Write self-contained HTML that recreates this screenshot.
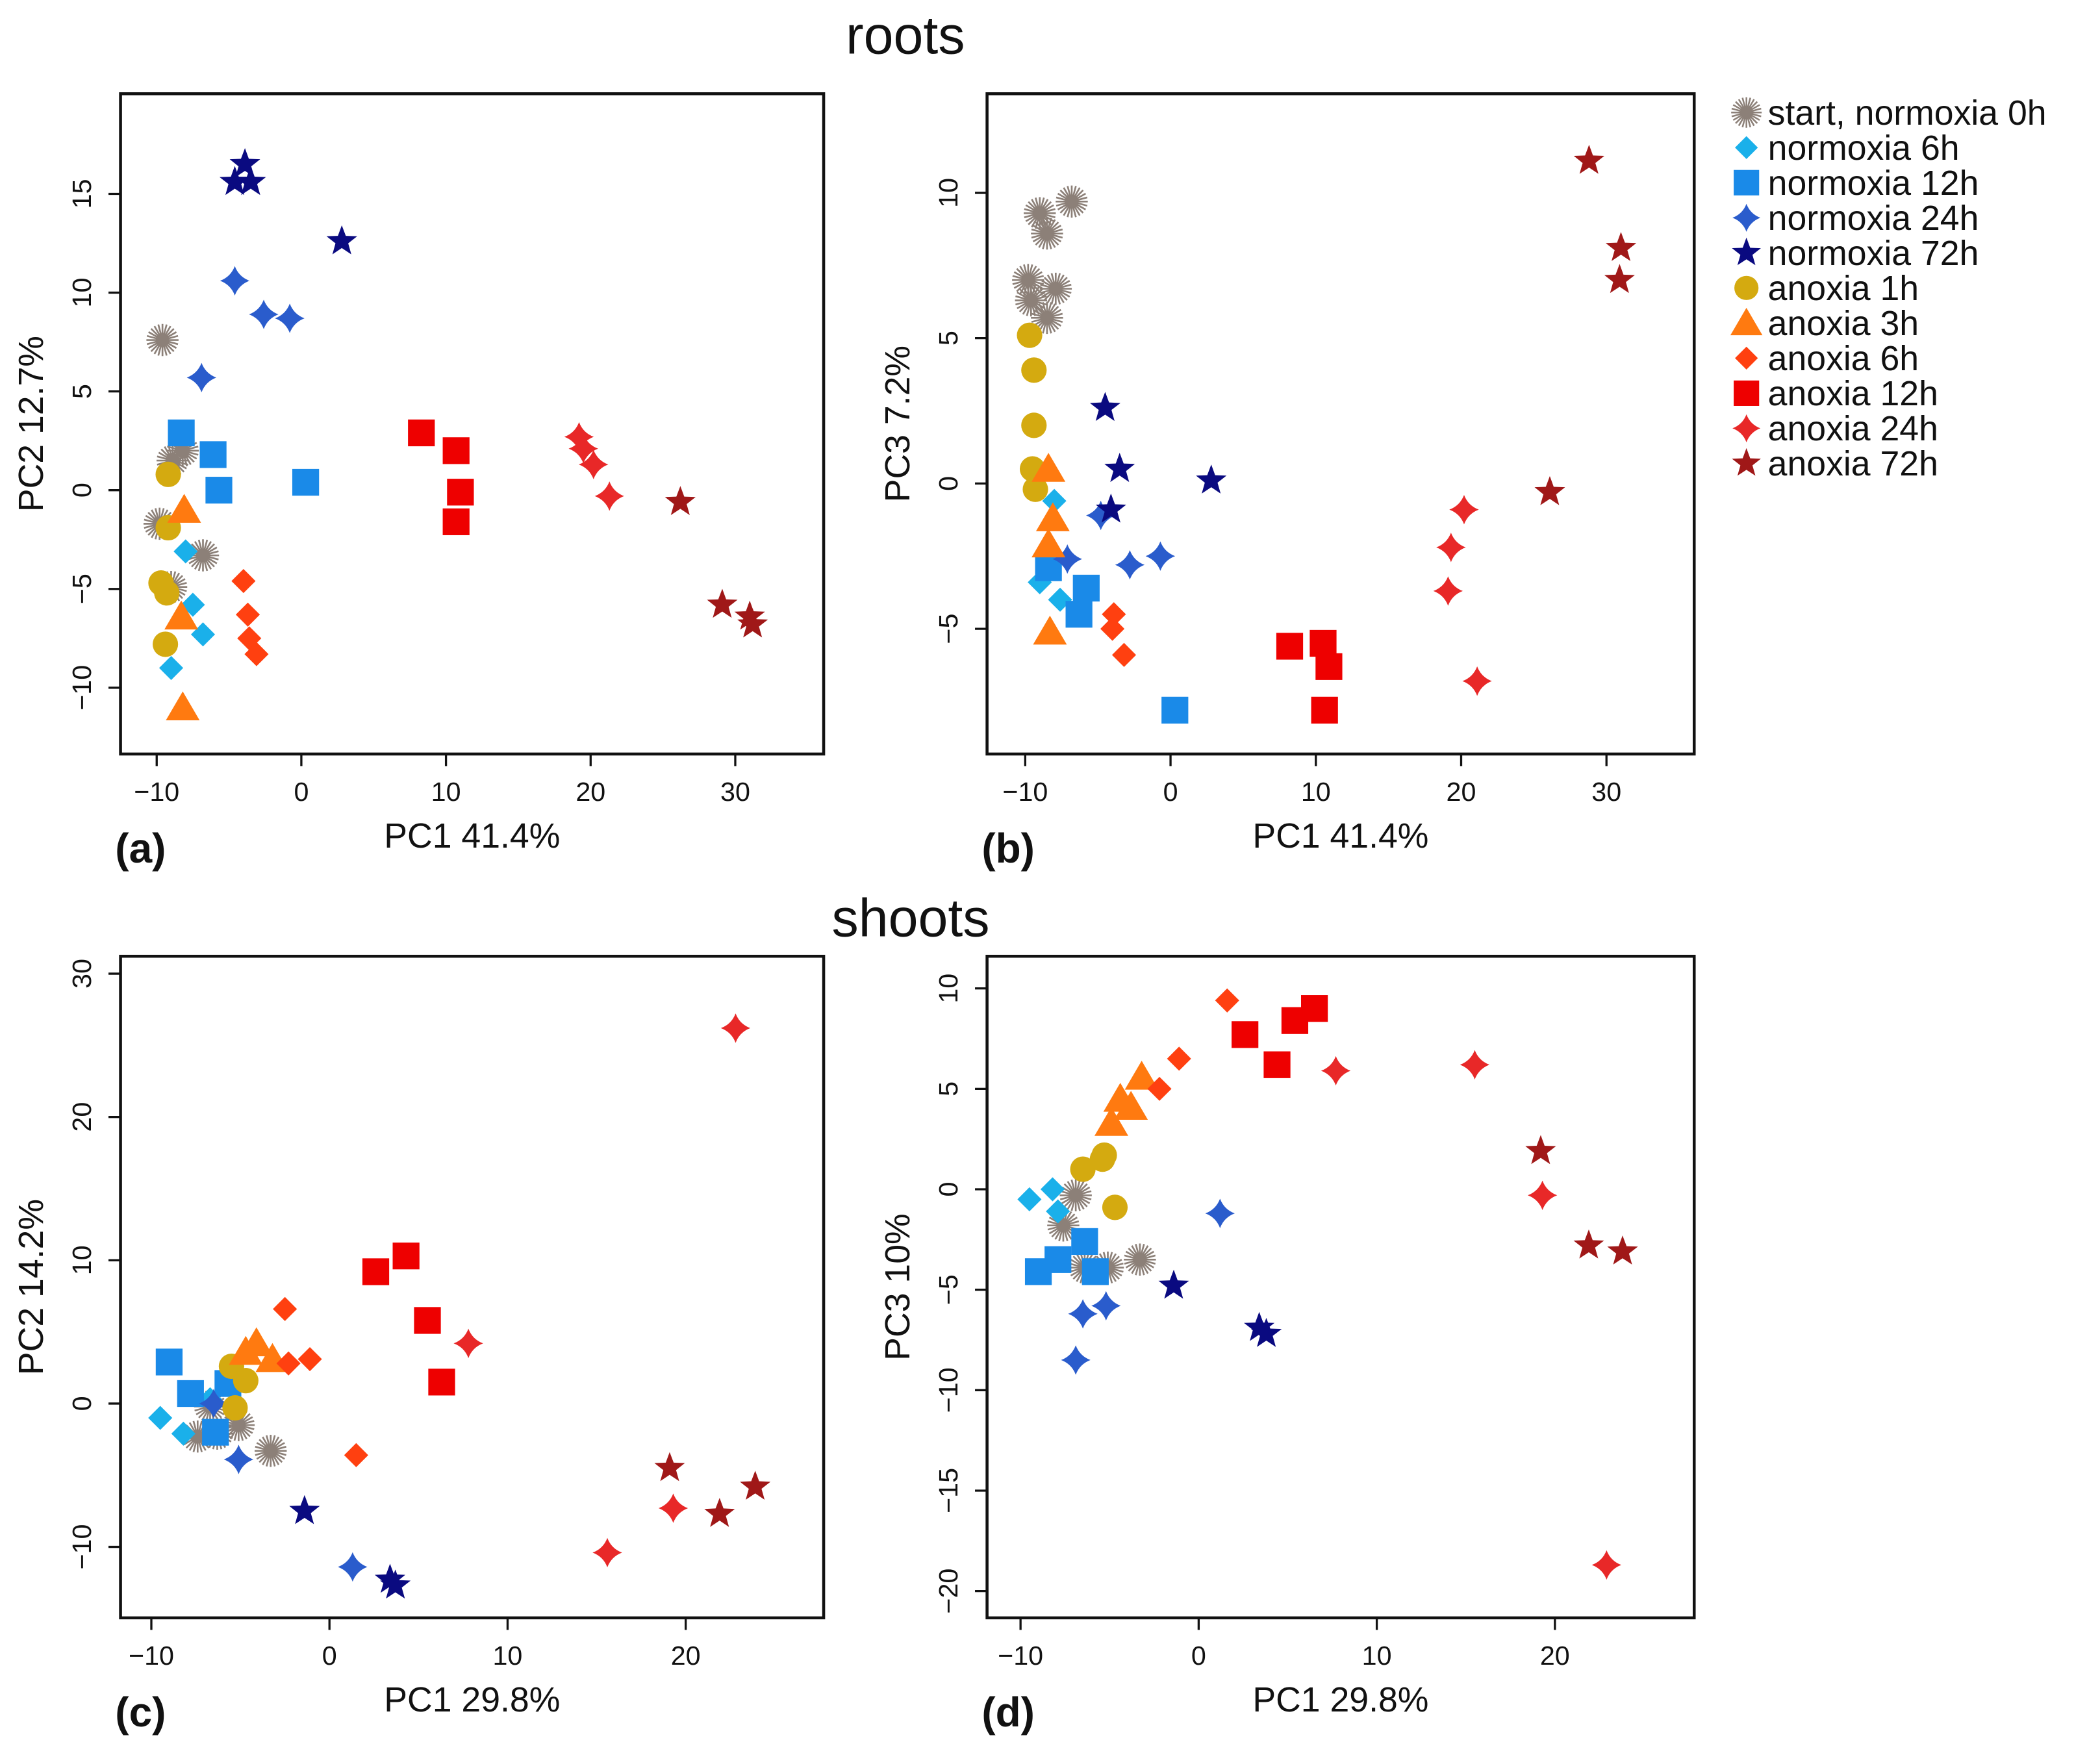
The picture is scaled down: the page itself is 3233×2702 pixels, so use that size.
<!DOCTYPE html>
<html><head><meta charset="utf-8"><style>
html,body{margin:0;padding:0;background:#fff}
svg{display:block}
text{font-family:"Liberation Sans",Arial,sans-serif;fill:#111}
</style></head><body>
<svg id="fig" width="3233" height="2702" viewBox="0 0 1568 1310.4" preserveAspectRatio="none" xmlns="http://www.w3.org/2000/svg">
<text x="676" y="40" font-size="40" text-anchor="middle">roots</text>
<text x="680" y="699" font-size="40" text-anchor="middle">shoots</text>
<g id="panels"></g>
<g id="legend"></g>
</svg>
<script>
const groups=["start, normoxia 0h","normoxia 6h","normoxia 12h","normoxia 24h","normoxia 72h","anoxia 1h","anoxia 3h","anoxia 6h","anoxia 12h","anoxia 24h","anoxia 72h"];
const shapes=["asterisk","diamond","square","star4","star5","circle","triangle","diamond","square","star4","star5"];
const colors=["#8c8078","#1ab0ea","#1a8ae8","#2a5ccc","#0a0a80","#d4aa10","#ff7a10","#ff4010","#ee0000","#e82828","#a01818"];

// Panel a: roots PC1 vs PC2
const rootsPC1PC2=[
 [[-9.6,7.6],[-8.9,1.5],[-8.2,2.0],[-9.8,-1.7],[-6.8,-3.3],[-9.0,-4.9]],
 [[-8.0,-3.1],[-7.5,-5.8],[-6.8,-7.3],[-9.0,-9.0]],
 [[-8.3,2.9],[-6.1,1.8],[-5.7,0.0],[0.3,0.4]],
 [[-4.6,10.6],[-2.6,8.9],[-0.8,8.7],[-6.9,5.7]],
 [[-3.9,16.5],[-4.6,15.6],[-3.5,15.6],[2.8,12.6]],
 [[-9.2,0.8],[-9.2,-1.9],[-9.7,-4.7],[-9.3,-5.2],[-9.4,-7.8]],
 [[-8.1,-1.0],[-8.3,-6.4],[-8.2,-11.0]],
 [[-4.0,-4.6],[-3.7,-6.3],[-3.6,-7.5],[-3.1,-8.3]],
 [[8.3,2.9],[10.7,2.0],[11.0,-0.1],[10.7,-1.6]],
 [[19.2,2.7],[19.5,2.1],[20.2,1.3],[21.3,-0.3]],
 [[26.2,-0.6],[29.1,-5.8],[31.0,-6.4],[31.2,-6.8]]
];
// Panel b: roots PC1 vs PC3
const rootsPC1PC3=[
 [[-9.0,9.3],[-6.8,9.7],[-8.5,8.6],[-9.8,7.0],[-7.9,6.7],[-9.6,6.3],[-8.5,5.7]],
 [[-8.0,-0.6],[-9.0,-3.4],[-7.6,-4.0]],
 [[-8.4,-2.9],[-5.8,-3.6],[-6.3,-4.5],[0.3,-7.8]],
 [[-4.8,-1.1],[-7.1,-2.6],[-2.8,-2.8],[-0.7,-2.5]],
 [[-4.5,2.6],[-3.5,0.5],[-4.1,-0.9],[2.8,0.1]],
 [[-9.7,5.1],[-9.4,3.9],[-9.4,2.0],[-9.5,0.5],[-9.3,-0.2]],
 [[-8.4,0.5],[-8.1,-1.2],[-8.4,-2.1],[-8.3,-5.1]],
 [[-3.9,-4.5],[-4.0,-5.0],[-3.2,-5.9]],
 [[8.2,-5.6],[10.5,-5.5],[10.9,-6.3],[10.6,-7.8]],
 [[20.2,-0.9],[19.3,-2.2],[19.1,-3.7],[21.1,-6.8]],
 [[28.8,11.1],[31.0,8.1],[30.9,7.0],[26.1,-0.3]]
];
// Panel c: shoots PC1 vs PC2
const shootsPC1PC2=[
 [[-7.4,-2.3],[-6.3,-2.1],[-5.1,-1.5],[-3.3,-3.3],[-6.7,-0.2]],
 [[-9.5,-1.0],[-8.2,-2.1],[-6.7,0.3]],
 [[-9.0,2.9],[-7.8,0.7],[-6.4,-2.0],[-5.7,1.4]],
 [[-5.1,-3.9],[1.3,-11.4],[-6.5,0.0]],
 [[-1.4,-7.5],[3.4,-12.3],[3.7,-12.7]],
 [[-5.5,2.6],[-4.7,1.6],[-5.3,-0.3]],
 [[-4.7,3.6],[-4.1,4.2],[-3.2,3.1]],
 [[-2.5,6.6],[-2.3,2.8],[-1.1,3.1],[1.5,-3.6]],
 [[2.6,9.2],[4.3,10.3],[5.5,5.8],[6.3,1.5]],
 [[22.8,26.2],[7.8,4.2],[15.6,-10.4],[19.3,-7.3]],
 [[19.1,-4.5],[23.9,-5.8],[21.9,-7.7]]
];
// Panel d: shoots PC1 vs PC3
const shootsPC1PC3=[
 [[-6.9,-0.3],[-7.6,-1.8],[-6.4,-3.9],[-5.1,-3.9],[-3.3,-3.5]],
 [[-9.5,-0.5],[-8.2,0.0],[-7.9,-1.1]],
 [[-9.0,-4.1],[-7.9,-3.5],[-6.4,-2.6],[-5.8,-4.1]],
 [[1.2,-1.2],[-6.5,-6.2],[-5.2,-5.8],[-6.9,-8.5]],
 [[-1.4,-4.8],[3.4,-6.9],[3.8,-7.2]],
 [[-6.5,1.0],[-5.3,1.7],[-4.7,-0.9],[-5.4,1.5]],
 [[-4.9,3.3],[-4.4,4.5],[-3.8,4.1],[-3.2,5.6]],
 [[1.6,9.4],[-1.1,6.5],[-2.2,5.0]],
 [[2.6,7.7],[4.4,6.2],[5.4,8.4],[6.5,9.0]],
 [[7.7,5.9],[15.5,6.2],[19.3,-0.3],[22.9,-18.7]],
 [[19.2,1.9],[21.9,-2.8],[23.8,-3.1]]
];
const xTicksRoots=[-10,0,10,20,30];
const yTicksA=[-10,-5,0,5,10,15];
const yTicksB=[-5,0,5,10];
const xTicksShoots=[-10,0,10,20];
const yTicksC=[-10,0,10,20,30];
const yTicksD=[-20,-15,-10,-5,0,5,10];

const panels=[
 {id:"a",data:rootsPC1PC2,xt:xTicksRoots,yt:yTicksA,frame:[90,70,615,563],xr:[-10,117,10.8],yr:[0,366,14.75],xl:"PC1 41.4%",yl:"PC2 12.7%"},
 {id:"b",data:rootsPC1PC3,xt:xTicksRoots,yt:yTicksB,frame:[737,70,1265,563],xr:[0,874,10.85],yr:[0,361,21.7],xl:"PC1 41.4%",yl:"PC3 7.2%"},
 {id:"c",data:shootsPC1PC2,xt:xTicksShoots,yt:yTicksC,frame:[90,714,615,1208],xr:[0,246,13.3],yr:[0,1048,10.7],xl:"PC1 29.8%",yl:"PC2 14.2%"},
 {id:"d",data:shootsPC1PC3,xt:xTicksShoots,yt:yTicksD,frame:[737,714,1265,1208],xr:[0,895,13.3],yr:[0,888,15],xl:"PC1 29.8%",yl:"PC3 10%"}
];
const NS="http://www.w3.org/2000/svg";
function mk(tag,attrs,parent){const e=document.createElementNS(NS,tag);for(const k in attrs)e.setAttribute(k,attrs[k]);if(parent)parent.appendChild(e);return e;}
function marker(shape,color,cx,cy,s,parent){
 let e;
 if(shape==="square"){e=mk("rect",{x:cx-10*s,y:cy-10*s,width:20*s,height:20*s,fill:color},parent);}
 else if(shape==="circle"){e=mk("circle",{cx:cx,cy:cy,r:9.5*s,fill:color},parent);}
 else if(shape==="diamond"){const r=9*s;e=mk("polygon",{points:`${cx},${cy-r} ${cx+r},${cy} ${cx},${cy+r} ${cx-r},${cy}`,fill:color},parent);}
 else if(shape==="triangle"){const r=12*s;e=mk("polygon",{points:`${cx},${cy-r} ${cx+r*1.05},${cy+r*0.8} ${cx-r*1.05},${cy+r*0.8}`,fill:color},parent);}
 else if(shape==="star4"){const r=11*s,q=3*s;e=mk("path",{d:`M${cx},${cy-r} Q${cx+q},${cy-q} ${cx+r},${cy} Q${cx+q},${cy+q} ${cx},${cy+r} Q${cx-q},${cy+q} ${cx-r},${cy} Q${cx-q},${cy-q} ${cx},${cy-r}Z`,fill:color},parent);}
 else if(shape==="star5"){const R=12*s,r=5*s;let p=[];for(let i=0;i<10;i++){const a=-Math.PI/2+i*Math.PI/5,rr=i%2?r:R;p.push((cx+rr*Math.cos(a)).toFixed(1)+","+(cy+rr*Math.sin(a)).toFixed(1));}e=mk("polygon",{points:p.join(" "),fill:color},parent);}
 else {const R=12*s;let d="";for(let i=0;i<12;i++){const a=i*Math.PI/12;d+=`M${(cx-R*Math.cos(a)).toFixed(2)},${(cy-R*Math.sin(a)).toFixed(2)}L${(cx+R*Math.cos(a)).toFixed(2)},${(cy+R*Math.sin(a)).toFixed(2)}`;}e=mk("path",{d:d,stroke:color,"stroke-width":1.3*s,fill:"none"},parent);}
 return e;
}
const root=document.getElementById("panels");
panels.forEach(p=>{
 const g=mk("g",{},root);
 
 
 const [x0,y0,x1,y1]=p.frame;
 const X=v=>p.xr[1]+(v-p.xr[0])*p.xr[2];
 const Y=v=>p.yr[1]-(v-p.yr[0])*p.yr[2];
 const fr=mk("rect",{x:x0,y:y0,width:x1-x0,height:y1-y0,fill:"none",stroke:"#111","stroke-width":2.2},g);
 
 
 const xa=mk("g",{},g);
 
 
 mk("line",{x1:X(p.xt[0]),x2:X(p.xt[p.xt.length-1]),y1:y1,y2:y1,stroke:"#111","stroke-width":1.6},xa);
 p.xt.forEach(t=>{mk("line",{x1:X(t),x2:X(t),y1:y1,y2:y1+9,stroke:"#111","stroke-width":1.6},xa);
  const tx=mk("text",{x:X(t),y:y1+35,"font-size":20,"text-anchor":"middle"},xa);tx.textContent=t<0?"\u2212"+(-t):t;
  
  });
 const ya=mk("g",{},g);
 
 
 mk("line",{x1:x0,x2:x0,y1:Y(p.yt[0]),y2:Y(p.yt[p.yt.length-1]),stroke:"#111","stroke-width":1.6},ya);
 p.yt.forEach(t=>{mk("line",{x1:x0,x2:x0-9,y1:Y(t),y2:Y(t),stroke:"#111","stroke-width":1.6},ya);
  const tx=mk("text",{x:0,y:0,"font-size":20,"text-anchor":"middle",transform:`translate(${x0-22},${Y(t)}) rotate(-90)`},ya);tx.textContent=t<0?"\u2212"+(-t):t;
  
  });
 const xl=mk("text",{x:(x0+x1)/2,y:y1+70,"font-size":26,"text-anchor":"middle"},g);xl.textContent=p.xl;
 
 
 const yl=mk("text",{x:0,y:0,"font-size":26,"text-anchor":"middle",transform:`translate(${x0-58},${(y0+y1)/2}) rotate(-90)`},g);yl.textContent=p.yl;
 
 
 const pl=mk("text",{x:x0-4,y:y1+81,"font-size":31,"font-weight":"bold"},g);pl.textContent="("+p.id+")";
 
 
 p.data.forEach((pts,gi)=>{pts.forEach(pt=>{
  const m=marker(shapes[gi],colors[gi],X(pt[0]),Y(pt[1]),1,g);
  
  
 });});
});
const lg=document.getElementById("legend");
groups.forEach((n,i)=>{
 const y=84+i*26.2;
 const m=marker(shapes[i],colors[i],1304,y,0.95,lg);
 
 
 const t=mk("text",{x:1320,y:y+9,"font-size":26},lg);t.textContent=n;
 
 
});
</script>
</body></html>
